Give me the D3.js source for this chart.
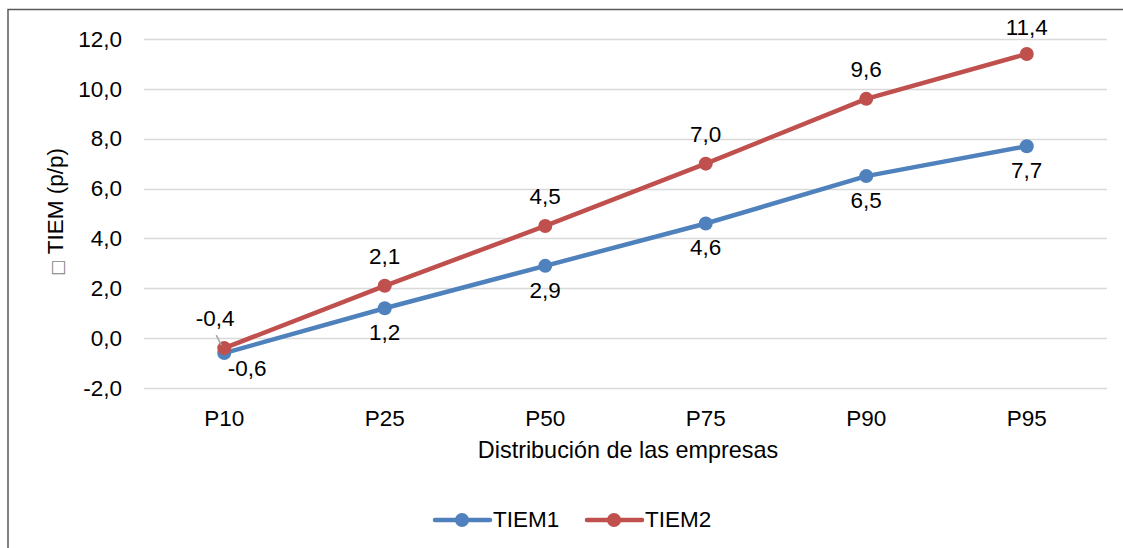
<!DOCTYPE html>
<html>
<head>
<meta charset="utf-8">
<script src="https://cdn.jsdelivr.net/npm/d3@7"></script>
<style>
  html, body { margin: 0; padding: 0; background: #fff; }
  svg { display: block; font-family: "Liberation Sans", Arial, sans-serif; }
</style>
</head>
<body>
<svg id="chart" width="1123" height="548"></svg>
<script>
// Percentiles of the firm distribution
const categories = ["P10", "P25", "P50", "P75", "P90", "P95"];
const tiem1 = [-0.6, 1.2, 2.9, 4.6, 6.5, 7.7];
const tiem2 = [-0.4, 2.1, 4.5, 7.0, 9.6, 11.4];
const yTicks = [-2, 0, 2, 4, 6, 8, 10, 12];
const seriesNames = ["TIEM1", "TIEM2"];

const colors = { TIEM1: "#4F81BD", TIEM2: "#C0504D" };
const FS = 22.5;
const fmt = v => d3.format(".1f")(v).replace(".", ",").replace("\u2212", "-");

const svg = d3.select("#chart");

// frame
svg.append("rect")
  .attr("x", 8).attr("y", 9.5).attr("width", 1130).attr("height", 560)
  .attr("fill", "none").attr("stroke", "#595959").attr("stroke-width", 1.5);

const plot = { left: 144, right: 1107, top: 39, bottom: 388 };

const x = d3.scaleBand().domain(categories).range([plot.left, plot.right]);
const y = d3.scaleLinear().domain([-2, 12]).range([plot.bottom, plot.top]);

// horizontal gridlines
svg.append("g").selectAll("line").data(yTicks).join("line")
  .attr("x1", plot.left).attr("x2", plot.right)
  .attr("y1", d => Math.round(y(d)) + 0.5).attr("y2", d => Math.round(y(d)) + 0.5)
  .attr("stroke", "#D9D9D9").attr("stroke-width", 1.5);

// y axis labels
const yAxis = d3.axisLeft(y).tickValues(yTicks).tickFormat(fmt).tickSize(0).tickPadding(22);
const gy = svg.append("g").attr("transform", `translate(${plot.left},0)`).call(yAxis);
gy.select(".domain").remove();
gy.selectAll("text").attr("font-size", FS).attr("fill", "#000")
  .attr("font-family", "Liberation Sans, Arial, sans-serif");

// x axis labels
const xAxis = d3.axisBottom(x).tickSize(0).tickPadding(22);
const gx = svg.append("g").attr("transform", `translate(0,${plot.bottom})`).call(xAxis);
gx.select(".domain").remove();
gx.selectAll("text").attr("font-size", FS).attr("fill", "#000")
  .attr("font-family", "Liberation Sans, Arial, sans-serif");

// axis titles
svg.append("text")
  .attr("x", 628).attr("y", 458).attr("text-anchor", "middle")
  .attr("font-size", 23.4).attr("fill", "#000")
  .text("Distribución de las empresas");

const yTitle = svg.append("text")
  .attr("transform", "translate(63,212) rotate(-90)")
  .attr("text-anchor", "middle")
  .attr("font-size", FS).attr("fill", "#000");
yTitle.append("tspan").attr("font-family", "DejaVu Sans").attr("font-size", 17)
  .attr("fill", "#7F7F7F").text("\u25A1");
yTitle.append("tspan").text(" TIEM (p/p)");

const cx = d => x(d) + x.bandwidth() / 2;
const line = d3.line().x(d => cx(d.c)).y(d => y(d.v));

const series = [
  { name: "TIEM1", values: tiem1 },
  { name: "TIEM2", values: tiem2 }
];

series.forEach(s => {
  const pts = categories.map((c, i) => ({ c, v: s.values[i] }));
  const g = svg.append("g");
  g.append("path").datum(pts)
    .attr("d", line).attr("fill", "none")
    .attr("stroke", colors[s.name]).attr("stroke-width", 4.5)
    .attr("stroke-linejoin", "round").attr("stroke-linecap", "round");
  g.selectAll("circle").data(pts).join("circle")
    .attr("cx", d => cx(d.c)).attr("cy", d => y(d.v)).attr("r", 7)
    .attr("fill", colors[s.name]);
});

// data labels: TIEM2 above the points, TIEM1 below
const labelsG = svg.append("g").attr("font-size", FS).attr("fill", "#000").attr("text-anchor", "middle");

categories.forEach((c, i) => {
  const v2 = tiem2[i];
  const v1 = tiem1[i];
  if (i === 0) {
    // leader line for the crowded first point
    svg.append("line")
      .attr("x1", cx(c) - 8).attr("y1", y(v2) - 13)
      .attr("x2", cx(c) - 3).attr("y2", y(v2) - 3)
      .attr("stroke", "#A6A6A6").attr("stroke-width", 1.5);
    labelsG.append("text").attr("x", cx(c) - 9).attr("y", y(v2) - 22).text(fmt(v2));
    labelsG.append("text").attr("x", cx(c) + 23).attr("y", y(v1) + 23).text(fmt(v1));
  } else {
    labelsG.append("text").attr("x", cx(c)).attr("y", Math.max(y(v2) - 22, 35)).text(fmt(v2));
    labelsG.append("text").attr("x", cx(c)).attr("y", y(v1) + 32).text(fmt(v1));
  }
});

// legend
const legend = svg.append("g");
const legendItems = [
  { name: seriesNames[0], x0: 435 },
  { name: seriesNames[1], x0: 587 }
];
legendItems.forEach(it => {
  legend.append("line")
    .attr("x1", it.x0).attr("x2", it.x0 + 55)
    .attr("y1", 520).attr("y2", 520)
    .attr("stroke", colors[it.name]).attr("stroke-width", 4.5).attr("stroke-linecap", "round");
  legend.append("circle").attr("cx", it.x0 + 27).attr("cy", 520).attr("r", 7)
    .attr("fill", colors[it.name]);
  legend.append("text").attr("x", it.x0 + 58).attr("y", 527)
    .attr("font-size", FS).attr("fill", "#000").text(it.name);
});
</script>
</body>
</html>
